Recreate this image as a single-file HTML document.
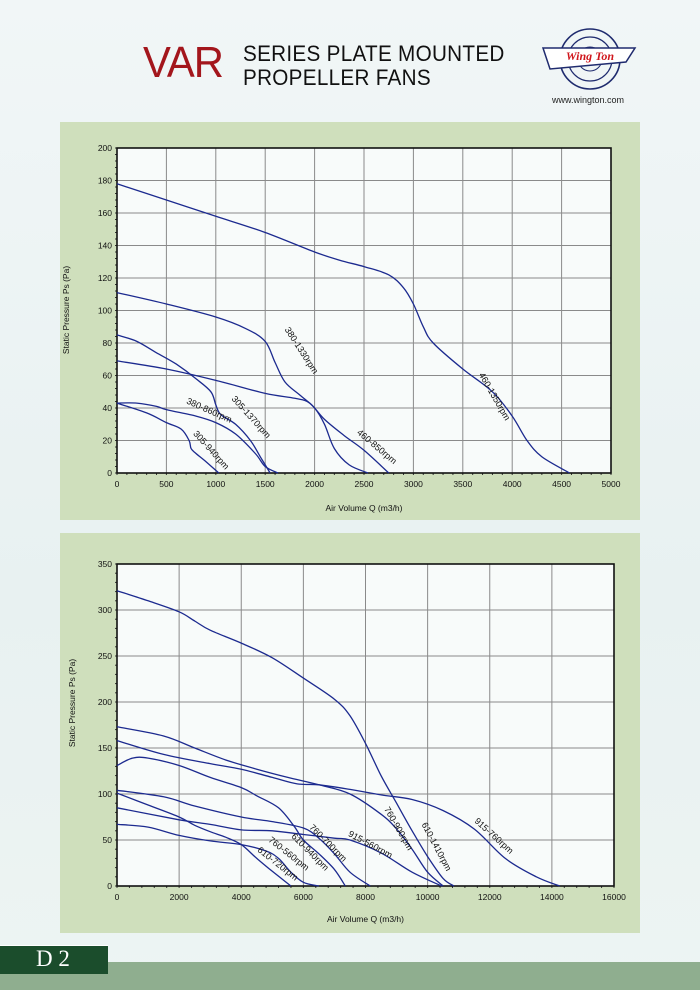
<!DOCTYPE html>
<html><head><meta charset="utf-8"><style>
html,body{margin:0;padding:0}
body{width:700px;height:990px;position:relative;overflow:hidden;background:linear-gradient(180deg,#f1f6f7 0%,#e8f1f1 60%,#edf4f3 100%);font-family:"Liberation Sans",sans-serif}
.t{position:absolute}
</style></head><body>
<div class="t" style="left:143px;top:38px;font-size:44px;color:#a3161c;letter-spacing:-1px;transform:scaleX(0.95);transform-origin:left">VAR</div>
<div class="t" style="left:243px;top:42px;font-size:22.5px;line-height:24px;color:#111;letter-spacing:0.3px;transform:scaleX(0.92);transform-origin:left">SERIES PLATE MOUNTED<br>PROPELLER FANS</div>
<svg class="t" style="left:530px;top:25px" width="120" height="90">
<ellipse cx="60" cy="34" rx="30" ry="30" fill="none" stroke="#1f2b6e" stroke-width="1.6"/>
<ellipse cx="60" cy="34" rx="22" ry="22" fill="none" stroke="#1f2b6e" stroke-width="1.2"/>
<ellipse cx="60" cy="34" rx="12" ry="12" fill="none" stroke="#1f2b6e" stroke-width="1"/>
<path d="M13,23 L105,23 L96,37 L20,44 Z" fill="#fff" stroke="#1f2b6e" stroke-width="1.5"/>
<text x="60" y="35" text-anchor="middle" font-family="Liberation Serif,serif" font-weight="bold" font-style="italic" font-size="12" fill="#d0161c">Wing Ton</text>
<text x="58" y="78" text-anchor="middle" font-size="9" fill="#222">www.wington.com</text>
</svg>
<div class="t" style="left:60px;top:122px;width:580px;height:398px;background:#cfdfbc"></div>
<div class="t" style="left:60px;top:533px;width:580px;height:400px;background:#cfdfbc"></div>
<div class="t" style="left:0;top:962px;width:700px;height:28px;background:#8fae8f"></div>
<div class="t" style="left:0;top:945px;width:108px;height:28px;background:#1b4d2c;border-top:1px solid #fff"></div>
<div class="t" style="left:36px;top:946px;font-family:'Liberation Serif',serif;font-size:23px;color:#fff">D 2</div>
<svg id="s" class="t" style="left:0;top:0" width="700" height="990"></svg>
<script>
var S=document.getElementById('s'),h='';
function cr(p,ymax){var d='M'+p[0][0].toFixed(1)+','+p[0][1].toFixed(1);for(var i=0;i<p.length-1;i++){var a=p[i-1]||p[i],b=p[i],c=p[i+1],e=p[i+2]||c;var y2=Math.min(c[1]-(e[1]-b[1])/6,ymax),y1=Math.min(b[1]+(c[1]-a[1])/6,ymax);d+='C'+(b[0]+(c[0]-a[0])/6).toFixed(1)+','+y1.toFixed(1)+' '+(c[0]-(e[0]-b[0])/6).toFixed(1)+','+y2.toFixed(1)+' '+c[0].toFixed(1)+','+c[1].toFixed(1);}return d;}
function chart(c){
 var X=function(q){return c.x0+q*(c.x1-c.x0)/c.qmax},Y=function(p){return c.y0-p*(c.y0-c.y1)/c.pmax};
 h+='<rect x="'+c.x0+'" y="'+c.y1+'" width="'+(c.x1-c.x0)+'" height="'+(c.y0-c.y1)+'" fill="#f8fbfa"/>';
 for(var q=0;q<=c.qmax;q+=c.qs){var x=X(q);h+='<line x1="'+x+'" y1="'+c.y1+'" x2="'+x+'" y2="'+c.y0+'" stroke="#8a8a8a" stroke-width="1"/>';h+='<text x="'+x+'" y="'+(c.y0+14)+'" text-anchor="middle" font-size="8.5" fill="#111">'+q+'</text>';}
 for(var p=0;p<=c.pmax;p+=c.ps){var y=Y(p);h+='<line x1="'+c.x0+'" y1="'+y+'" x2="'+c.x1+'" y2="'+y+'" stroke="#8a8a8a" stroke-width="1"/>';h+='<text x="'+(c.x0-5)+'" y="'+(y+3)+'" text-anchor="end" font-size="8.5" fill="#111">'+p+'</text>';}
 for(var q=0;q<=c.qmax;q+=c.qs/5){var x=X(q);h+='<line x1="'+x+'" y1="'+c.y0+'" x2="'+x+'" y2="'+(c.y0+2)+'" stroke="#333"/>';}
 for(var p=0;p<=c.pmax;p+=c.ps/5){var y=Y(p);h+='<line x1="'+(c.x0-2)+'" y1="'+y+'" x2="'+c.x0+'" y2="'+y+'" stroke="#333"/>';}
 h+='<rect x="'+c.x0+'" y="'+c.y1+'" width="'+(c.x1-c.x0)+'" height="'+(c.y0-c.y1)+'" fill="none" stroke="#111" stroke-width="1.6"/>';
 c.curves.forEach(function(k){h+='<path d="'+cr(k.map(function(v){return[X(v[0]),Y(v[1])]}),c.y0)+'" fill="none" stroke="#1c2a8f" stroke-width="1.3"/>';});
 c.labels.forEach(function(l){h+='<text x="'+l[1]+'" y="'+l[2]+'" transform="rotate('+l[3]+' '+l[1]+' '+l[2]+')" text-anchor="middle" font-size="9" fill="#111">'+l[0]+'</text>';});
 h+='<text x="'+((c.x0+c.x1)/2)+'" y="'+c.xt+'" text-anchor="middle" font-size="8.5" fill="#111">Air Volume Q (m3/h)</text>';
 h+='<text x="'+c.yx+'" y="'+c.yy+'" transform="rotate(-90 '+c.yx+' '+c.yy+')" text-anchor="middle" font-size="8.5" fill="#111">Static Pressure Ps (Pa)</text>';
}
chart({x0:117,x1:611,y0:473,y1:148,qmax:5000,pmax:200,qs:500,ps:20,xt:511,yx:69,yy:310,
curves:[
[[0,178],[500,168],[1000,158],[1500,148],[2000,136],[2250,131],[2500,127],[2750,122],[2900,114],[3000,104],[3100,90],[3200,80],[3500,64],[3800,50],[4000,35],[4150,20],[4300,10],[4580,0]],
[[0,111],[500,104],[1000,96],[1300,89],[1500,81],[1600,68],[1700,56],[1850,48],[2000,40],[2100,30],[2200,15],[2350,5],[2540,0]],
[[0,69],[500,64],[1000,57],[1500,49],[1800,46],[1950,43],[2100,33],[2300,23],[2500,14],[2750,0]],
[[0,85],[200,81],[400,74],[600,67],[800,58],[950,50],[1000,42],[1050,36],[1200,30],[1350,20],[1450,10],[1550,0]],
[[0,43],[200,43],[400,41],[500,39],[800,35],[1000,31],[1200,24],[1400,12],[1500,4],[1630,0]],
[[0,43],[300,37],[500,31],[650,27],[730,20],[750,15],[800,12],[900,7],[1030,0]]],
labels:[["460-1350rpm",492,398,60],["380-1330rpm",299,352,57],["460-850rpm",375,449,40],["305-1370rpm",249,419,48],["380-860rpm",208,413,24],["305-940rpm",209,452,48]]});
chart({x0:117,x1:614,y0:886,y1:564,qmax:16000,pmax:350,qs:2000,ps:50,xt:922,yx:75,yy:703,
curves:[
[[0,321],[1000,310],[2000,298],[2500,288],[3000,278],[4000,264],[5000,248],[6000,226],[7000,203],[7500,185],[8000,155],[8500,120],[9000,90],[9500,60],[10000,32],[10500,8],[10850,0]],
[[0,173],[1500,163],[2500,150],[3500,137],[4500,127],[5500,118],[6500,110],[7500,100],[8500,78],[9000,62],[9500,40],[10000,15],[10500,0]],
[[0,158],[1500,143],[3000,133],[4000,127],[5000,118],[5800,111],[6500,110],[7500,105],[8500,99],[9500,94],[10500,82],[11500,62],[12500,30],[13500,10],[14250,0]],
[[0,131],[500,139],[1000,139],[2000,131],[3000,118],[4000,107],[4500,98],[5200,85],[5700,65],[6000,50],[6500,35],[7000,18],[7350,0]],
[[0,104],[1500,97],[2500,87],[4000,75],[5000,70],[6000,63],[6500,52],[7000,35],[7500,15],[8150,0]],
[[0,101],[1000,88],[2000,75],[2500,66],[3000,59],[3500,53],[4000,45],[4500,30],[5000,16],[5600,0]],
[[0,85],[2000,72],[3000,67],[4000,61],[5000,60],[6000,56],[7000,52],[7500,50],[8500,36],[9500,15],[10450,0]],
[[0,67],[1000,64],[2000,55],[3000,49],[4000,45],[4800,38],[5200,30],[5600,15],[6000,4],[6500,0]]],
labels:[["760-900rpm",396,830,60],["610-1410rpm",434,848,62],["915-760rpm",492,838,42],["915-560rpm",369,847,28],["760-700rpm",326,845,45],["610-940rpm",308,854,45],["760-560rpm",287,856,38],["610-720rpm",276,866,38]]});
S.innerHTML=h;
</script>
</body></html>
